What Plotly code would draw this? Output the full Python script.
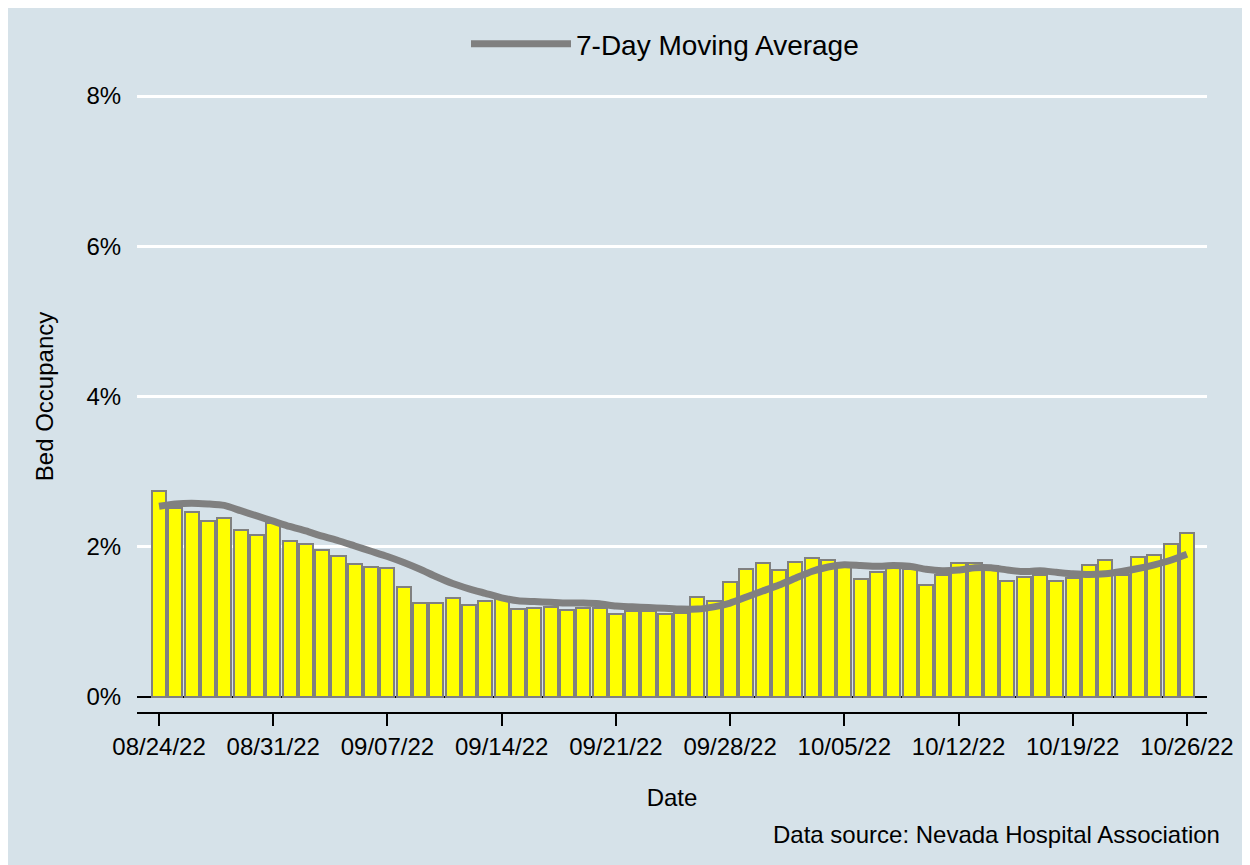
import plotly.graph_objects as go
import pandas as pd

dates = pd.date_range("2022-08-24", "2022-10-26", freq="D")

bed_occupancy = [2.74, 2.51, 2.46, 2.34, 2.38, 2.22, 2.15, 2.31, 2.08, 2.04, 1.96, 1.88, 1.77, 1.73, 1.72,
                 1.47, 1.25, 1.25, 1.32, 1.22, 1.28, 1.32, 1.17, 1.19, 1.20, 1.16, 1.19, 1.18, 1.11, 1.15, 1.14, 1.10,
                 1.12, 1.33, 1.28, 1.53, 1.70, 1.78, 1.69, 1.80, 1.85, 1.83, 1.73, 1.57, 1.67, 1.72, 1.70, 1.49,
                 1.63, 1.79, 1.78, 1.75, 1.55, 1.60, 1.62, 1.55, 1.59, 1.76, 1.83, 1.62, 1.87, 1.89, 2.03, 2.18]

moving_avg = [2.54, 2.57, 2.58, 2.57, 2.55, 2.48, 2.41, 2.34, 2.27, 2.21, 2.14, 2.08, 2.01, 1.94, 1.87,
              1.79, 1.70, 1.60, 1.51, 1.44, 1.38, 1.32, 1.28, 1.27, 1.26, 1.25, 1.25, 1.24, 1.21, 1.20, 1.19, 1.18,
              1.17, 1.17, 1.20, 1.25, 1.33, 1.41, 1.49, 1.58, 1.67, 1.73, 1.76, 1.75, 1.74, 1.75, 1.74, 1.70,
              1.68, 1.69, 1.72, 1.72, 1.69, 1.67, 1.68, 1.66, 1.64, 1.63, 1.64, 1.67, 1.71, 1.76, 1.82, 1.90]

tick_dates = ["2022-08-24", "2022-08-31", "2022-09-07", "2022-09-14", "2022-09-21",
              "2022-09-28", "2022-10-05", "2022-10-12", "2022-10-19", "2022-10-26"]
tick_labels = ["08/24/22", "08/31/22", "09/07/22", "09/14/22", "09/21/22",
               "09/28/22", "10/05/22", "10/12/22", "10/19/22", "10/26/22"]
y_ticks = [0, 2, 4, 6, 8]
y_tick_labels = ["0%", "2%", "4%", "6%", "8%"]

BG = "rgb(214,226,233)"
FONT = "Liberation Sans, Arial, sans-serif"
DAY_MS = 86400000

fig = go.Figure()
fig.add_trace(go.Bar(
    x=dates, y=bed_occupancy, width=0.86 * DAY_MS,
    marker=dict(color="#ffff00", line=dict(color="#808080", width=2)),
    showlegend=False, name="Bed Occupancy"))
fig.add_trace(go.Scatter(
    x=dates, y=moving_avg, mode="lines", name="7-Day Moving Average",
    line=dict(color="#808080", width=7, shape="spline", smoothing=0.6)))

OFF = 8  # page offset of the figure inside the window
W, H = 1250, 865
L, T = 137 - OFF, 80 - OFF
R = W - (1207 - OFF)
B = H - (712 - OFF)
pw, ph = W - L - R, H - T - B

def px_x(sx):
    return (sx - OFF - L) / pw

def px_y(sy):
    return (H - B - (sy - OFF)) / ph

fig.update_layout(
    width=W, height=H,
    margin=dict(l=L, r=R, t=T, b=B, pad=0),
    paper_bgcolor=BG, plot_bgcolor=BG,
    font=dict(family=FONT, size=24, color="black"),
    bargap=0,
    showlegend=True,
    legend=dict(orientation="h", x=0.5 - 7 / pw, xanchor="center", y=px_y(44), yanchor="middle",
                font=dict(size=28), bgcolor="rgba(0,0,0,0)", itemwidth=100),
    xaxis=dict(
        type="date",
        range=["2022-08-22 15:36", "2022-10-27 05:31"],
        tickvals=tick_dates, ticktext=tick_labels,
        ticks="outside", ticklen=12, tickwidth=2, tickcolor="black",
        showline=True, linecolor="black", linewidth=2,
        showgrid=False, zeroline=False,
        title=dict(text="Date", standoff=30, font=dict(size=24)),
        tickfont=dict(size=24),
    ),
    yaxis=dict(
        range=[-0.2, 8.2],
        tickvals=y_ticks, ticktext=y_tick_labels,
        ticks="outside", ticklen=10, tickcolor="rgba(0,0,0,0)",
        showline=False,
        showgrid=True, gridcolor="white", gridwidth=3,
        zeroline=True, zerolinecolor="black", zerolinewidth=2,
        title=dict(text="Bed Occupancy", standoff=26, font=dict(size=24)),
        tickfont=dict(size=24),
    ),
    annotations=[
        dict(text="Data source: Nevada Hospital Association", xref="paper", yref="paper",
             x=px_x(1222), y=px_y(835), xanchor="right", yanchor="middle",
             showarrow=False, font=dict(size=24)),
    ],
)

fig.write_html("out.html")
